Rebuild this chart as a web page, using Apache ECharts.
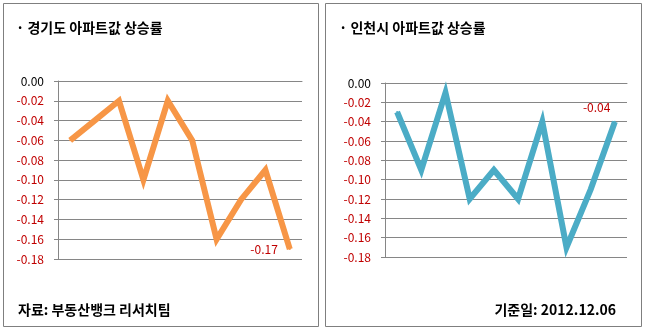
<!DOCTYPE html>
<html><head><meta charset="utf-8">
<script src="https://cdn.jsdelivr.net/npm/echarts@6/dist/echarts.min.js"></script>
<style>html,body{margin:0;padding:0;background:#fff}#c{width:647px;height:330px}</style>
</head><body><div id="c"></div>
<script>
const categories = ['1','2','3','4','5','6','7','8','9','10'];
const gyeonggi = [-0.06, -0.04, -0.02, -0.10, -0.02, -0.06, -0.16, -0.12, -0.09, -0.17];
const incheon = [-0.03, -0.09, -0.01, -0.12, -0.09, -0.12, -0.04, -0.17, -0.11, -0.04];
const titles = ['· 경기도 아파트값 상승률', '· 인천시 아파트값 상승률'];
const notes = ['자료: 부동산뱅크 리서치팀', '기준일: 2012.12.06'];

const FONT = '"Noto Sans CJK KR", "Noto Sans", sans-serif';
const RED = '#c00000';
const chart = echarts.init(document.getElementById('c'), null, {renderer: 'canvas'});

function yAxis(idx) {
  return {
    type: 'value', gridIndex: idx, min: -0.18, max: 0, interval: 0.02,
    axisLine: {show: true, lineStyle: {color: '#868686', width: 1}},
    axisTick: {show: true, length: 4, lineStyle: {color: '#868686'}},
    splitLine: {show: true, lineStyle: {color: '#868686', width: 1}},
    axisLabel: {
      fontFamily: FONT, fontSize: 12, margin: 14,
      formatter: v => (Math.abs(v) < 1e-9 ? '0.00' : v.toFixed(2)),
      color: v => (Math.abs(v) < 1e-9 ? '#000' : RED)
    }
  };
}
function xAxis(idx) {
  return {
    type: 'category', gridIndex: idx, data: categories, boundaryGap: true,
    axisLine: {show: true, lineStyle: {color: '#868686'}},
    axisTick: {show: false}, axisLabel: {show: false}, splitLine: {show: false}
  };
}
function lineSeries(idx, arr, color, labelOpts) {
  const last = arr.length - 1;
  return {
    type: 'line', xAxisIndex: idx, yAxisIndex: idx, data: arr,
    symbol: 'circle', symbolSize: 2, showSymbol: true, showAllSymbol: true,
    lineStyle: {color: color, width: 6, join: 'miter'}, itemStyle: {color: color},
    label: Object.assign({
      show: true, color: RED, fontFamily: FONT, fontSize: 12,
      formatter: p => (p.dataIndex === last ? p.value.toFixed(2) : '')
    }, labelOpts),
    labelLayout: {hideOverlap: false}
  };
}

chart.setOption({
  animation: false,
  grid: [
    {left: 58, right: 345, top: 81, bottom: 71},
    {left: 385, right: 20, top: 83, bottom: 73}
  ],
  xAxis: [xAxis(0), xAxis(1)],
  yAxis: [yAxis(0), yAxis(1)],
  series: [
    lineSeries(0, gyeonggi, '#f79646', {position: 'left', distance: 11}),
    lineSeries(1, incheon, '#4bacc6', {position: [-31, -19], align: 'left', verticalAlign: 'top'})
  ],
  graphic: [
    {type: 'rect', shape: {x: 3.5, y: 3.5, width: 315, height: 323}, style: {fill: 'none', stroke: '#7f7f7f', lineWidth: 1}, silent: true},
    {type: 'rect', shape: {x: 325.5, y: 3.5, width: 316, height: 323}, style: {fill: 'none', stroke: '#7f7f7f', lineWidth: 1}, silent: true},
    {type: 'text', left: 16, top: 21, style: {text: titles[0], font: 'bold 14px ' + FONT, fill: '#000'}},
    {type: 'text', left: 339, top: 21, style: {text: titles[1], font: 'bold 14px ' + FONT, fill: '#000'}},
    {type: 'text', left: 18, top: 303, style: {text: notes[0], font: 'bold 14px ' + FONT, fill: '#000'}},
    {type: 'text', right: 31, top: 303, style: {text: notes[1], font: 'bold 14px ' + FONT, fill: '#000'}}
  ]
});
</script></body></html>
